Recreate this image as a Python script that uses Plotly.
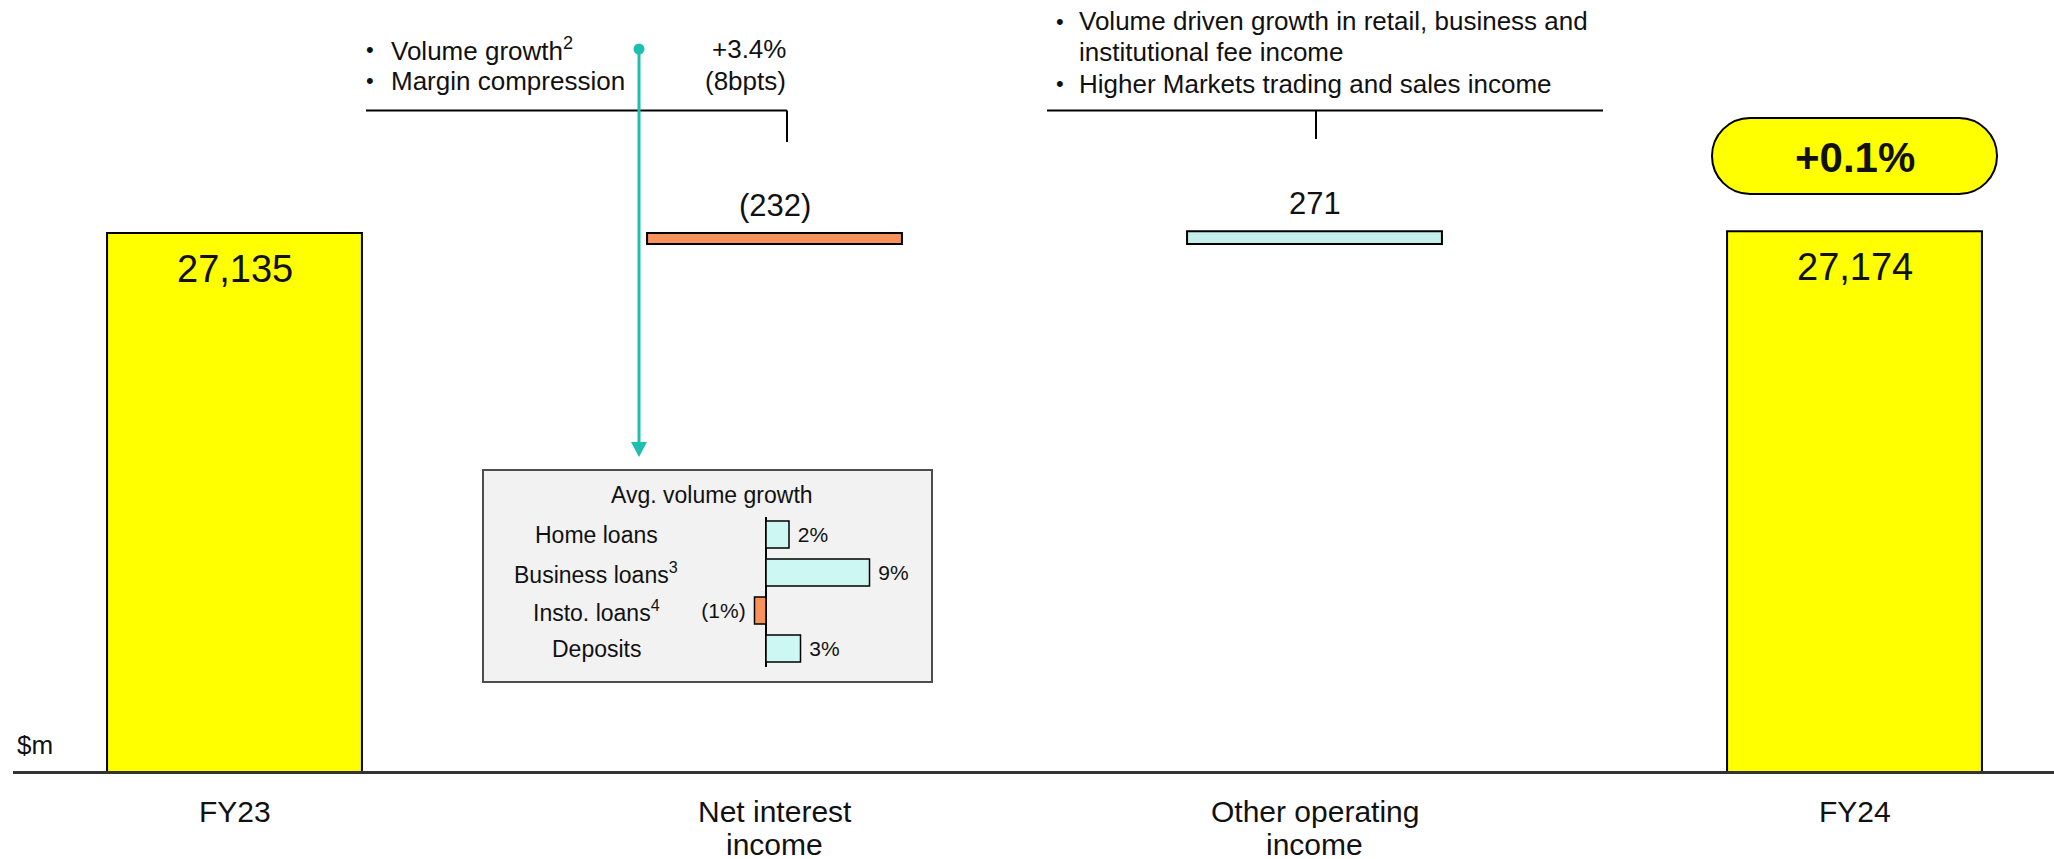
import plotly.graph_objects as go

# ---- data -------------------------------------------------------------
categories = ["FY23", "Net interest<br>income", "Other operating<br>income", "FY24"]
opening = 27135
changes = [-232, 271]

growth_items = ["Home loans", "Business loans<sup>3</sup>", "Insto. loans<sup>4</sup>", "Deposits"]
growth_pct = [2, 9, -1, 3]

nii_drivers = ["Volume growth<sup>2</sup>", "Margin compression"]
nii_driver_values = ["+3.4%", "(8bpts)"]
ooi_notes = ["Volume driven growth in retail, business and", "institutional fee income",
             "Higher Markets trading and sales income"]

closing = opening + sum(changes)
pct_change = (closing - opening) / opening * 100

# ---- styling ----------------------------------------------------------
FONT = "Liberation Sans, Arial, sans-serif"
TXT = "#111111"
YELLOW = "#FFFF00"
ORANGE = "#F7925A"
CYAN = "#C5EFEA"
CYAN_LIGHT = "#CCF7F3"
TEAL = "#1FBFB0"
NBSP = "\u00a0"

W_PX, H_PX = 2054, 859
M_L, M_R, M_T, M_B = 13, 0, 0, 88
PW = W_PX - M_L - M_R
PH = H_PX - M_T - M_B


def PX(x):
    return (x - M_L) / PW


def PY(y):
    return (M_T + PH - y) / PH


def fmt_change(v):
    return f"({abs(v):,})" if v < 0 else f"{v:,}"


def fmt_pct(v):
    return f"({abs(v)}%){NBSP}" if v < 0 else f"{NBSP}{v}%"


def note(x, y, text, size, xanchor="center"):
    return dict(x=PX(x), y=PY(y), xref="paper", yref="paper",
                xanchor=xanchor, yanchor="middle",
                text=text, showarrow=False, font=dict(size=size, color=TXT, family=FONT))


fig = go.Figure()

# main waterfall
fig.add_trace(go.Waterfall(
    x=categories,
    y=[opening] + changes + [0],
    measure=["absolute", "relative", "relative", "total"],
    width=0.472,
    connector=dict(visible=False),
    increasing=dict(marker=dict(color=CYAN, line=dict(color="#000", width=2))),
    decreasing=dict(marker=dict(color=ORANGE, line=dict(color="#000", width=2))),
    totals=dict(marker=dict(color=YELLOW, line=dict(color="#000", width=2))),
    hoverinfo="skip",
    showlegend=False,
))

# inset: average volume growth
fig.add_trace(go.Bar(
    x=growth_pct,
    y=growth_items,
    orientation="h",
    xaxis="x2", yaxis="y2",
    width=0.714,
    marker=dict(color=[CYAN_LIGHT if v >= 0 else ORANGE for v in growth_pct],
                line=dict(color="#000", width=1.5)),
    text=[fmt_pct(v) for v in growth_pct],
    textposition="outside",
    textfont=dict(size=21, color=TXT, family=FONT),
    constraintext="none",
    cliponaxis=False,
    hoverinfo="skip",
    showlegend=False,
))

annotations = []
shapes = []

# category labels under the axis, one line each
for cat in categories:
    for j, line in enumerate(cat.split("<br>")):
        annotations.append(dict(x=cat, y=PY(811 + 33 * j), xref="x", yref="paper",
                                xanchor="center", yanchor="middle", text=line,
                                showarrow=False,
                                font=dict(size=30, color=TXT, family=FONT)))

# value labels on main bars
for cat, val in ((categories[0], opening), (categories[3], closing)):
    annotations.append(dict(x=cat, y=val, xref="x", yref="y", yshift=-36,
                            xanchor="center", yanchor="middle",
                            text=f"{val:,}", showarrow=False,
                            font=dict(size=38, color=TXT, family=FONT)))
running = opening
for cat, ch in zip(categories[1:3], changes):
    top = max(running, running + ch)
    annotations.append(dict(x=cat, y=top, xref="x", yref="y", yshift=28,
                            xanchor="center", yanchor="middle",
                            text=fmt_change(ch), showarrow=False,
                            font=dict(size=31, color=TXT, family=FONT)))
    running += ch

# growth pill
pill_x0, pill_x1, pill_y0, pill_y1 = 1712, 1997, 118, 194
r = (pill_y1 - pill_y0) / 2
k = 0.5523 * r
cy = (pill_y0 + pill_y1) / 2
lx, rx = pill_x0 + r, pill_x1 - r


def pt(x, y):
    return f"{PX(x)},{PY(y)}"


pill_path = (
    f"M {pt(lx, pill_y0)} L {pt(rx, pill_y0)} "
    f"C {pt(rx + k, pill_y0)} {pt(pill_x1, cy - k)} {pt(pill_x1, cy)} "
    f"C {pt(pill_x1, cy + k)} {pt(rx + k, pill_y1)} {pt(rx, pill_y1)} "
    f"L {pt(lx, pill_y1)} "
    f"C {pt(lx - k, pill_y1)} {pt(pill_x0, cy + k)} {pt(pill_x0, cy)} "
    f"C {pt(pill_x0, cy - k)} {pt(lx - k, pill_y0)} {pt(lx, pill_y0)} Z"
)
shapes.append(dict(type="path", xref="paper", yref="paper", path=pill_path,
                   fillcolor=YELLOW, line=dict(color="#000", width=2)))
annotations.append(note((pill_x0 + pill_x1) / 2, cy + 1, f"<b>{pct_change:+.1f}%</b>", 42))

# "$m" unit label
annotations.append(note(15, 745, "$m", 26, "left"))

# NII commentary
for i, (label, val) in enumerate(zip(nii_drivers, nii_driver_values)):
    yy = 49 + 32 * i
    annotations.append(note(364, yy, "•", 22, "left"))
    annotations.append(note(389, yy, label, 26, "left"))
    annotations.append(note(788, yy, val, 26, "right"))
shapes.append(dict(type="line", xref="paper", yref="paper",
                   x0=PX(366), x1=PX(787), y0=PY(110.5), y1=PY(110.5),
                   line=dict(color="#000", width=2)))
shapes.append(dict(type="line", xref="paper", yref="paper",
                   x0=PX(787), x1=PX(787), y0=PY(110.5), y1=PY(142),
                   line=dict(color="#000", width=2)))

# Other operating income commentary
ooi_y = [21, 52, 84]
ooi_bullet = [True, False, True]
for txt, yy, b in zip(ooi_notes, ooi_y, ooi_bullet):
    if b:
        annotations.append(note(1054, yy, "•", 22, "left"))
    annotations.append(note(1077, yy, txt, 26, "left"))
shapes.append(dict(type="line", xref="paper", yref="paper",
                   x0=PX(1047), x1=PX(1603), y0=PY(110.5), y1=PY(110.5),
                   line=dict(color="#000", width=2)))
shapes.append(dict(type="line", xref="paper", yref="paper",
                   x0=PX(1316), x1=PX(1316), y0=PY(110.5), y1=PY(139),
                   line=dict(color="#000", width=2)))

# inset panel
box_x0, box_x1, box_y0, box_y1 = 483, 932, 470, 682
shapes.append(dict(type="rect", xref="paper", yref="paper", layer="below",
                   x0=PX(box_x0), x1=PX(box_x1), y0=PY(box_y1), y1=PY(box_y0),
                   fillcolor="#F2F2F2", line=dict(color="#4D4D4D", width=2)))
annotations.append(note(712, 495, "Avg. volume growth", 23))
row_y = [534.5, 572.5, 611, 648.5]
for item, yy in zip(growth_items, row_y):
    annotations.append(note(596, yy, item, 23))

# teal pointer from commentary to the inset
tx = 639
shapes.append(dict(type="line", xref="paper", yref="paper",
                   x0=PX(tx), x1=PX(tx), y0=PY(49), y1=PY(445),
                   line=dict(color=TEAL, width=3)))
shapes.append(dict(type="circle", xref="paper", yref="paper",
                   x0=PX(tx - 5.5), x1=PX(tx + 5.5), y0=PY(54.5), y1=PY(43.5),
                   fillcolor=TEAL, line=dict(color=TEAL, width=0)))
shapes.append(dict(type="path", xref="paper", yref="paper",
                   path=f"M {pt(tx - 8, 442)} L {pt(tx + 8, 442)} L {pt(tx, 457)} Z",
                   fillcolor=TEAL, line=dict(color=TEAL, width=0)))

# main x range: category centres every 540px starting at 234.5px
step = 540.0
c0 = 234.5 - M_L
x_range = [-c0 / step, (PW - c0) / step]

# main y scale: 21 $m per pixel, FY23 top at y=233
upp = 21.0
y_top = opening + 233 * upp
y_range = [y_top - PH * upp, y_top]

# inset scales
zero_px = 766
pct_px = 11.5
ix0, ix1 = 740, 905
row_step = 38.0
iy0, iy1 = 517, 667

fig.update_layout(
    width=W_PX, height=H_PX,
    margin=dict(l=M_L, r=M_R, t=M_T, b=M_B, pad=0, autoexpand=False),
    paper_bgcolor="white",
    plot_bgcolor="rgba(0,0,0,0)",
    font=dict(family=FONT, color=TXT, size=26),
    showlegend=False,
    xaxis=dict(
        type="category", categoryorder="array", categoryarray=categories,
        range=x_range, showgrid=False, zeroline=False, automargin=False,
        showline=True, linecolor="#333333", linewidth=2.5,
        ticks="", showticklabels=False, fixedrange=True,
    ),
    yaxis=dict(range=y_range, visible=False, showgrid=False, fixedrange=True,
               automargin=False),
    xaxis2=dict(
        domain=[PX(ix0), PX(ix1)], anchor="y2", automargin=False,
        range=[(ix0 - zero_px) / pct_px, (ix1 - zero_px) / pct_px],
        showgrid=False, showticklabels=False, showline=False,
        zeroline=True, zerolinecolor="#000", zerolinewidth=1.5, fixedrange=True,
    ),
    yaxis2=dict(
        domain=[PY(iy1), PY(iy0)], anchor="x2", automargin=False,
        type="category", categoryorder="array", categoryarray=growth_items,
        range=[(iy1 - row_y[0]) / row_step, (iy0 - row_y[0]) / row_step],
        showgrid=False, showticklabels=False, showline=False, zeroline=False,
        fixedrange=True,
    ),
    annotations=annotations,
    shapes=shapes,
)

fig.write_html("out.html", config={"displayModeBar": False})
